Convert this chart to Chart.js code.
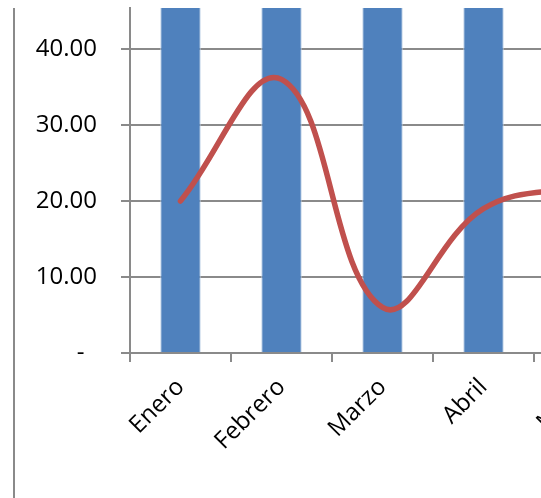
<!DOCTYPE html>
<html>
<head>
<meta charset="utf-8">
<script src="https://cdn.jsdelivr.net/npm/chart.js@4"></script>
<style>
  html, body { margin: 0; padding: 0; background: #fff; overflow: hidden; }
  #wrap { width: 541px; height: 498px; overflow: hidden; position: relative; }
  canvas { position: absolute; left: 0; top: 0; }
</style>
</head>
<body>
<div id="wrap"><canvas id="chart" width="640" height="498" style="width:640px;height:498px"></canvas></div>
<script>
// Data
const categories = ['Enero', 'Febrero', 'Marzo', 'Abril', 'Mayo'];
const barValues = [60, 60, 60, 60, 60];
const lineValues = [20, 36, 6, 19, 22];
const yTickValues = [0, 10, 20, 30, 40];
const yMax = 45.4;

const gray = '#8a8a8a';
const font = { family: "'Open Sans'", size: 24 };

// left frame line
const frameLine = {
  id: 'frameLine',
  afterDraw(chart) {
    const ctx = chart.ctx;
    ctx.save();
    ctx.strokeStyle = gray;
    ctx.lineWidth = 2;
    ctx.beginPath();
    ctx.moveTo(14, chart.chartArea.top);
    ctx.lineTo(14, 498);
    ctx.stroke();
    ctx.restore();
  }
};

new Chart(document.getElementById('chart'), {
  data: {
    labels: categories,
    datasets: [{
      type: 'line',
      data: lineValues,
      borderColor: '#C0504D',
      borderWidth: 5.5,
      borderCapStyle: 'round',
      tension: 0.4,
      pointRadius: 0,
      order: 1
    }, {
      type: 'bar',
      data: barValues,
      backgroundColor: '#4F81BD',
      borderColor: '#B9CDE5',
      borderWidth: { left: 1, right: 1, top: 0, bottom: 0 },
      barPercentage: 1,
      categoryPercentage: 0.4,
      order: 2
    }]
  },
  options: {
    responsive: false,
    animation: false,
    layout: { padding: { top: 8, right: 5, left: 0, bottom: 0 } },
    plugins: { legend: { display: false }, tooltip: { enabled: false } },
    scales: {
      x: {
        offset: true,
        grid: { offset: true, drawOnChartArea: false, color: gray, lineWidth: 2, tickLength: 9 },
        border: { color: gray, width: 2 },
        ticks: { color: '#000', font: font, minRotation: 45, maxRotation: 45, autoSkip: false, padding: 11 },
        afterFit(s) { s.height = 145; s.paddingLeft = 0; s.paddingRight = 0; }
      },
      y: {
        min: 0,
        max: yMax,
        grid: { color: gray, lineWidth: 2, tickLength: 9 },
        border: { color: gray, width: 2 },
        ticks: {
          color: '#000',
          font: font,
          padding: 24,
          callback: v => v === 0 ? '-  ' : v.toFixed(2)
        },
        afterBuildTicks(s) { s.ticks = yTickValues.map(v => ({ value: v })); },
        afterFit(s) { s.width = 130; s.paddingTop = 0; s.paddingBottom = 0; }
      }
    }
  },
  plugins: [frameLine]
});
</script>
</body>
</html>
